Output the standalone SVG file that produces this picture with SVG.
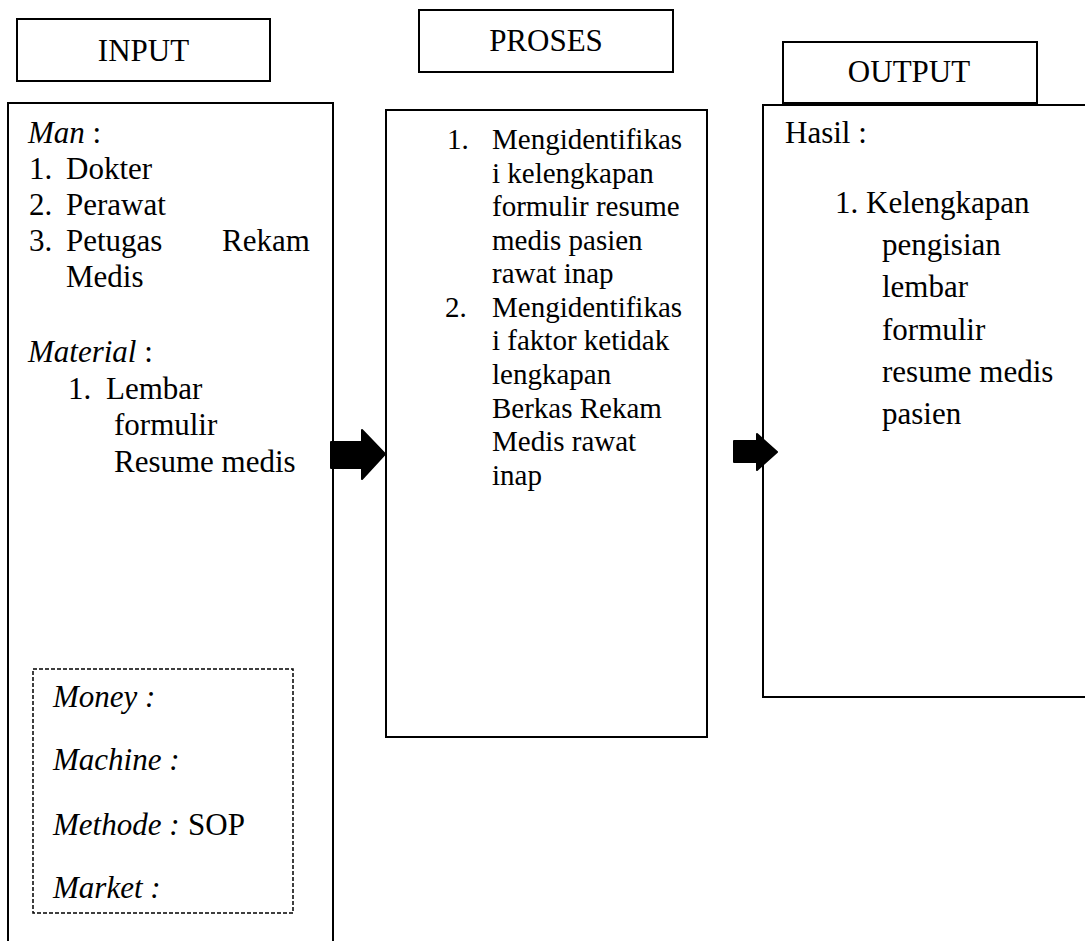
<svg xmlns="http://www.w3.org/2000/svg" width="1085" height="941" viewBox="0 0 1085 941" font-family="'Liberation Serif', 'DejaVu Serif', serif">
<style>
.box{fill:none;stroke:#000;stroke-width:2}
.dash{fill:none;stroke:#000;stroke-width:1.5;stroke-dasharray:4 2}
text{font-family:'Liberation Serif','DejaVu Serif',serif;font-size:31px;fill:#000}
.p{font-size:29px}
.i{font-style:italic}
.arrow{fill:#000;stroke:#000;stroke-width:2;stroke-linejoin:round}
</style>
<rect width="1085" height="941" fill="#fff"/>
<g id="input-header">
<rect class="box" x="17" y="19" width="253" height="62"/>
<text x="143.5" y="61" text-anchor="middle">INPUT</text>
</g>
<g id="proses-header">
<rect class="box" x="419" y="10" width="254" height="62"/>
<text x="546" y="51" text-anchor="middle">PROSES</text>
</g>
<g id="output-header">
<rect class="box" x="783" y="42" width="254" height="61"/>
<text x="909" y="82" text-anchor="middle">OUTPUT</text>
</g>
<g id="input">
<path class="box" d="M8,950 V103 H333 V950"/>
<text x="28" y="143"><tspan class="i">Man</tspan> :</text>
<text x="29" y="179">1.</text><text x="66" y="179">Dokter</text>
<text x="29" y="215">2.</text><text x="66" y="215">Perawat</text>
<text x="29" y="251">3.</text><text x="66" y="251">Petugas</text><text x="222" y="251">Rekam</text>
<text x="66" y="287">Medis</text>
<text x="28" y="362"><tspan class="i">Material</tspan> :</text>
<text x="68" y="399">1.</text><text x="106" y="399">Lembar</text>
<text x="114" y="435">formulir</text>
<text x="114" y="472">Resume medis</text>
</g>
<g id="input-4m">
<rect class="dash" x="33" y="669" width="260" height="244"/>
<text x="53" y="707" class="i">Money :</text>
<text x="53" y="770" class="i">Machine :</text>
<text x="53" y="835" class="i">Methode :</text><text x="188" y="835">SOP</text>
<text x="53" y="898" class="i">Market :</text>
</g>
<g id="proses">
<rect class="box" x="386" y="110" width="321" height="627"/>
<text class="p" x="447" y="149">1.</text>
<text class="p" x="492" y="149">Mengidentifikas</text>
<text class="p" x="492" y="183">i kelengkapan</text>
<text class="p" x="492" y="216">formulir resume</text>
<text class="p" x="492" y="250">medis pasien</text>
<text class="p" x="492" y="283">rawat inap</text>
<text class="p" x="445" y="317">2.</text>
<text class="p" x="492" y="317">Mengidentifikas</text>
<text class="p" x="492" y="350">i faktor ketidak</text>
<text class="p" x="492" y="384">lengkapan</text>
<text class="p" x="492" y="418">Berkas Rekam</text>
<text class="p" x="492" y="451">Medis rawat</text>
<text class="p" x="492" y="485">inap</text>
</g>
<g id="output">
<path class="box" d="M1090,105 H763 V697 H1090"/>
<text x="785" y="143">Hasil :</text>
<text x="835" y="213">1. Kelengkapan</text>
<text x="882" y="255">pengisian</text>
<text x="882" y="297">lembar</text>
<text x="882" y="340">formulir</text>
<text x="882" y="382">resume medis</text>
<text x="882" y="424">pasien</text>
</g>
<g id="connectors">
<polygon class="arrow" points="331,442 362,442 362,430 385,454 362,479 362,468 331,468"/>
<polygon class="arrow" points="734,441 757,441 757,434 777,452 757,470 757,462 734,462"/>
</g>
</svg>
